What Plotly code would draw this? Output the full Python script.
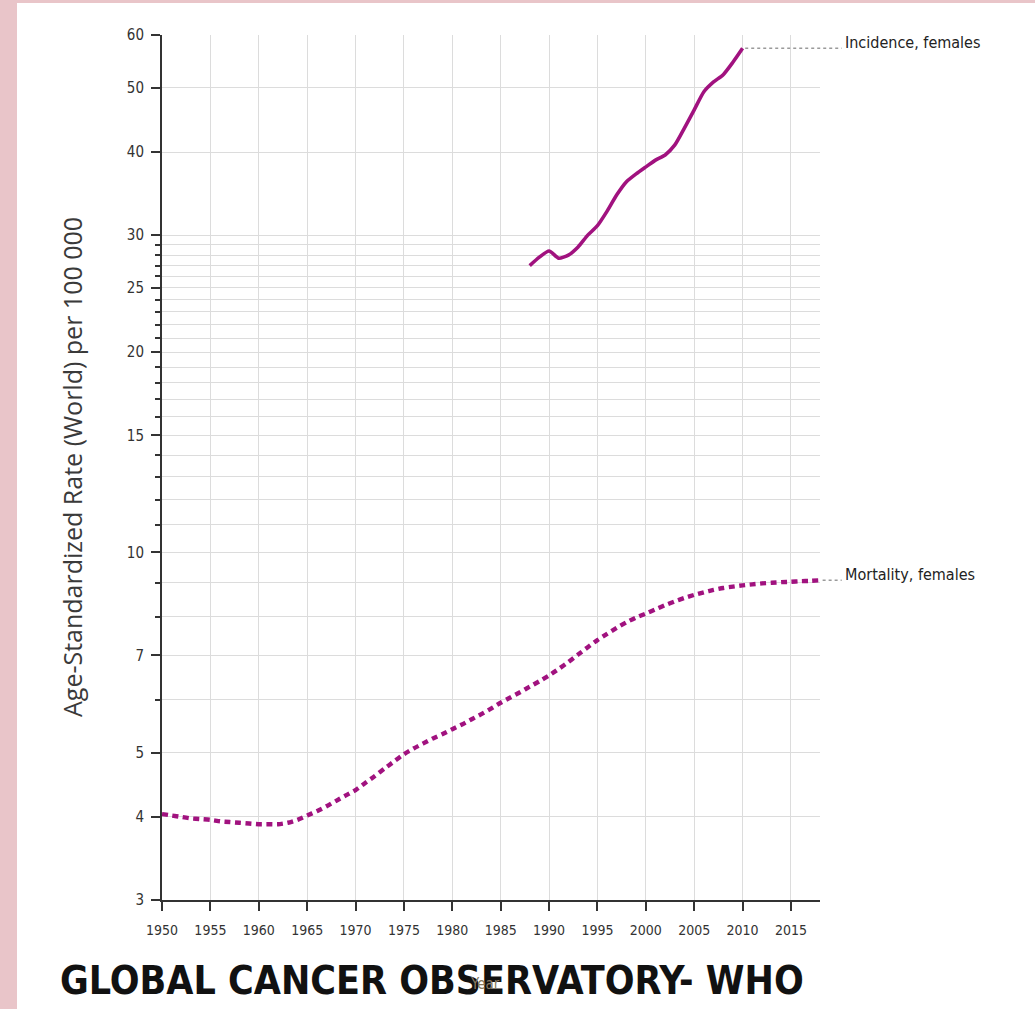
import math
import plotly.graph_objects as go

# Age-standardized rates (World) per 100 000, females
incidence_years = list(range(1988, 2011))
incidence_rate = [27.0, 27.8, 28.4, 27.7, 28.0, 28.8, 30.0, 31.0, 32.6, 34.5,
                  36.1, 37.1, 38.0, 38.9, 39.6, 41.0, 43.5, 46.3, 49.3, 51.0,
                  52.3, 54.6, 57.3]

mortality_years = list(range(1950, 2019))
mortality_rate = [4.04, 4.02, 4.00, 3.98, 3.97, 3.96, 3.94, 3.93, 3.92, 3.91,
                  3.90, 3.90, 3.90, 3.92, 3.96, 4.02, 4.08, 4.15, 4.23, 4.31,
                  4.39, 4.50, 4.61, 4.73, 4.85, 4.97, 5.07, 5.16, 5.25, 5.33,
                  5.42, 5.51, 5.61, 5.71, 5.82, 5.94, 6.05, 6.16, 6.28, 6.40,
                  6.53, 6.68, 6.84, 7.02, 7.20, 7.38, 7.54, 7.70, 7.85, 7.98,
                  8.09, 8.21, 8.33, 8.44, 8.54, 8.63, 8.71, 8.78, 8.84, 8.88,
                  8.92, 8.95, 8.98, 9.00, 9.02, 9.03, 9.05, 9.06, 9.08]

series_labels = ["Incidence, females", "Mortality, females"]

x_ticks = list(range(1950, 2016, 5))
y_major = [3, 4, 5, 7, 10, 15, 20, 25, 30, 40, 50, 60]
y_minor = [6, 8, 9, 11, 12, 13, 14, 16, 17, 18, 19, 21, 22, 23, 24, 26, 27, 28, 29]

X_MIN, X_MAX = 1950, 2018
Y_MIN, Y_MAX = 3, 60

LINE_COLOR = "#a1127f"
AXIS_COLOR = "#333333"
GRID_COLOR = "#dcdcdc"
TICK_FONT = "Liberation Sans Narrow, DejaVu Sans Condensed, Arial Narrow, sans-serif"

W, H = 1035, 1009
M_L, M_R, M_T, M_B = 162, 215, 35, 109
plot_w = W - M_L - M_R
plot_h = H - M_T - M_B


def px_to_paper_x(px):
    return (px - M_L) / plot_w


def px_to_paper_y(py):
    return (H - M_B - py) / plot_h


def year_to_paper(year):
    return (year - X_MIN) / (X_MAX - X_MIN)


fig = go.Figure()

fig.add_trace(go.Scatter(
    x=incidence_years, y=incidence_rate, mode="lines",
    line=dict(color=LINE_COLOR, width=3.6, shape="spline", smoothing=0.6),
    name=series_labels[0], showlegend=False, hoverinfo="x+y",
))
fig.add_trace(go.Scatter(
    x=mortality_years, y=mortality_rate, mode="lines",
    line=dict(color=LINE_COLOR, width=4.4, dash="6px,4.5px", shape="spline", smoothing=0.6),
    name=series_labels[1], showlegend=False, hoverinfo="x+y",
))

label_x = px_to_paper_x(843)
shapes = []
annotations = []
for years, vals, label in [(incidence_years, incidence_rate, series_labels[0]),
                           (mortality_years, mortality_rate, series_labels[1])]:
    end_year, end_val = years[-1], vals[-1]
    shapes.append(dict(
        type="line", xref="paper", yref="y",
        x0=year_to_paper(end_year) + 0.004, x1=label_x - 0.002,
        y0=end_val, y1=end_val,
        line=dict(color="#9a9a9a", width=1.6, dash="dot"),
    ))
    annotations.append(dict(
        text=label, xref="paper", yref="y", x=label_x, y=math.log10(end_val),
        xanchor="left", yanchor="middle", yshift=6, showarrow=False,
        font=dict(family=TICK_FONT, size=16, color="#222222"),
    ))

# slide frame edges
shapes.append(dict(type="rect", xref="paper", yref="paper",
                   x0=px_to_paper_x(0), x1=px_to_paper_x(17),
                   y0=px_to_paper_y(H), y1=px_to_paper_y(0),
                   fillcolor="#e9c5c9", line=dict(width=0), layer="below"))
shapes.append(dict(type="rect", xref="paper", yref="paper",
                   x0=px_to_paper_x(0), x1=px_to_paper_x(W),
                   y0=px_to_paper_y(3), y1=px_to_paper_y(0),
                   fillcolor="#e9c5c9", line=dict(width=0), layer="below"))

annotations.append(dict(
    text="Age-Standardized Rate (World) per 100 000", textangle=-90,
    xref="paper", yref="paper", x=px_to_paper_x(72), y=px_to_paper_y(467),
    xanchor="center", yanchor="middle", showarrow=False,
    font=dict(family="Open Sans, DejaVu Sans, sans-serif", size=25, color="#3a3a3a"),
))
annotations.append(dict(
    text="<b>GLOBAL CANCER OBSERVATORY- WHO</b>",
    xref="paper", yref="paper", x=px_to_paper_x(58), y=px_to_paper_y(980),
    xanchor="left", yanchor="middle", showarrow=False,
    font=dict(family="DejaVu Sans Condensed, DejaVu Sans, sans-serif", size=39, color="#111111"),
))
annotations.append(dict(
    text="Year", xref="paper", yref="paper", x=px_to_paper_x(485), y=px_to_paper_y(984),
    xanchor="center", yanchor="middle", showarrow=False,
    font=dict(family=TICK_FONT, size=15, color="#8a7a60"),
))

fig.update_layout(
    width=W, height=H,
    margin=dict(l=M_L, r=M_R, t=M_T, b=M_B, autoexpand=False),
    paper_bgcolor="white", plot_bgcolor="white",
    shapes=shapes, annotations=annotations,
    showlegend=False,
)

fig.update_xaxes(
    range=[X_MIN, X_MAX], tickmode="array", tickvals=x_ticks,
    ticks="outside", ticklen=9, tickwidth=1.5, tickcolor=AXIS_COLOR,
    showline=True, linecolor=AXIS_COLOR, linewidth=2,
    showgrid=True, gridcolor=GRID_COLOR, gridwidth=1,
    zeroline=False, ticklabelstandoff=7,
    tickfont=dict(family=TICK_FONT, size=14, color="#333333"),
)
fig.update_yaxes(
    type="log", range=[math.log10(Y_MIN), math.log10(Y_MAX)],
    tickmode="array", tickvals=y_major, ticktext=[str(v) for v in y_major],
    ticks="outside", ticklen=9, tickwidth=1.5, tickcolor=AXIS_COLOR,
    showline=True, linecolor=AXIS_COLOR, linewidth=2,
    showgrid=True, gridcolor=GRID_COLOR, gridwidth=1,
    minor=dict(tickmode="array", tickvals=y_minor, ticks="outside", ticklen=5,
               tickwidth=1.5, tickcolor=AXIS_COLOR, showgrid=True,
               gridcolor=GRID_COLOR, gridwidth=1),
    zeroline=False, ticklabelstandoff=4,
    tickfont=dict(family=TICK_FONT, size=15, color="#333333"),
)

fig.write_html("out.html")
